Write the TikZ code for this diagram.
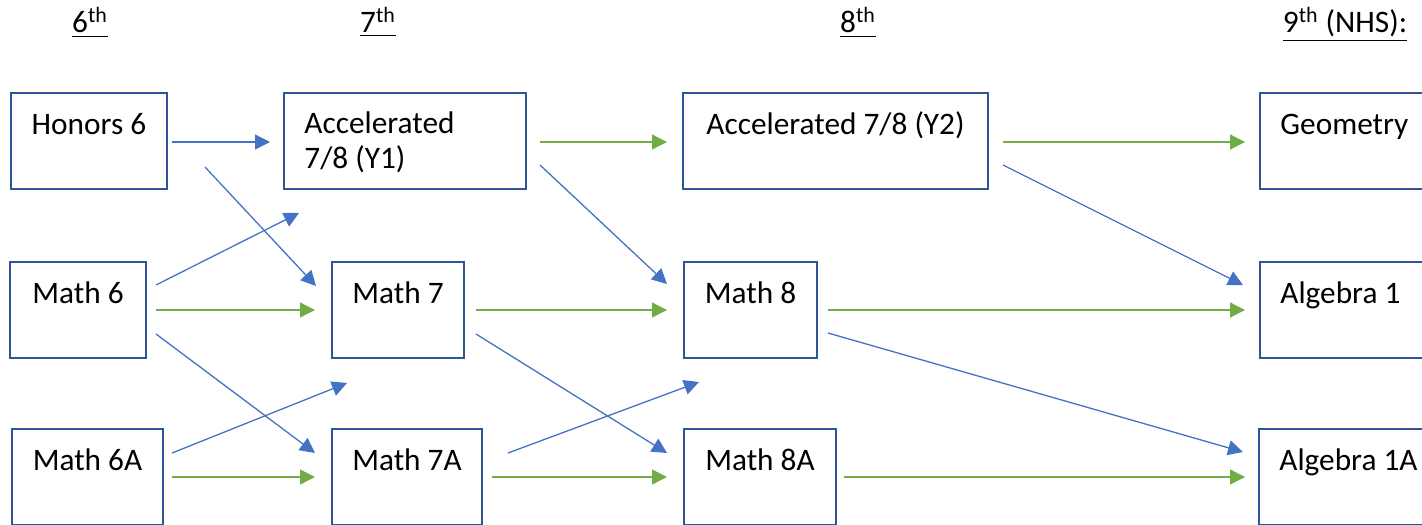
\documentclass[tikz,border=0pt]{standalone}
\usepackage{fontspec}
\setmainfont{Carlito}
\usetikzlibrary{arrows.meta,positioning,calc}
\definecolor{boxblue}{HTML}{2F5597}
\definecolor{arrblue}{HTML}{4472C4}
\definecolor{arrgreen}{HTML}{70AD47}
\newcommand\fsz{\fontsize{15.65pt}{17.5pt}\selectfont}
\tikzset{
  course/.style={draw=boxblue,line width=1pt,minimum height=48pt,inner sep=0pt,outer sep=0pt,anchor=north west},
  ctext/.style={inner sep=0pt,text height=11.7pt,text depth=3.9pt,font=\fsz},
  head/.style={anchor=base,inner sep=0pt,font=\fsz},
  blu/.style={draw=arrblue,line width=0.65pt,-{Triangle[length=7.5pt,width=7.5pt]}},
  grn/.style={blu,draw=arrgreen}
}
\begin{document}
\begin{tikzpicture}[x=0.5pt,y=-0.5pt]
\useasboundingbox (0,0) rectangle (1422,524);

% grade headings
\node[head] (g6) at (90,33) {\underline{6\textsuperscript{th}}};
\node[head] (g7) at (378,33) {\underline{7\textsuperscript{th}}};
\node[head] (g8) at (858,33) {\underline{8\textsuperscript{th}}};
\node[head] (g9) at (1345,33) {\underline{9\textsuperscript{th} (NHS):}};

% courses
\node[course,minimum width=78pt] (hon6) at (11,93) {};
\node[course,minimum width=121pt] (acc1) at (284,93) {};
\node[course,minimum width=152.5pt] (acc2) at (683,93) {};
\node[course,minimum width=100pt] (geo) at (1260,93) {};
\node[course,minimum width=68pt] (m6) at (10,262) {};
\node[course,minimum width=66pt] (m7) at (332,262) {};
\node[course,minimum width=66.5pt] (m8) at (684,262) {};
\node[course,minimum width=100pt] (alg1) at (1260,262) {};
\node[course,minimum width=75.5pt] (m6a) at (12,429) {};
\node[course,minimum width=75pt] (m7a) at (332,429) {};
\node[course,minimum width=76pt] (m8a) at (684,429) {};
\node[course,minimum width=100pt] (alg1a) at (1259,429) {};

\node[ctext,below=8.8pt of hon6.north] (hon6t) {Honors 6};
\node[inner sep=0pt,font=\fsz,align=left,below right=9.4pt and 10pt of acc1.north west] (acc1t) {Accelerated\\7/8 (Y1)};
\node[ctext,below=8.8pt of acc2.north] (acc2t) {Accelerated 7/8 (Y2)};
\node[ctext,below right=8.8pt and 10pt of geo.north west] (geot) {Geometry};
\node[ctext,below=8.8pt of m6.north] (m6t) {Math 6};
\node[ctext,below=8.8pt of m7.north] (m7t) {Math 7};
\node[ctext,below=8.8pt of m8.north] (m8t) {Math 8};
\node[ctext,below right=8.8pt and 10pt of alg1.north west] (alg1t) {Algebra 1};
\node[ctext,below=8.8pt of m6a.north] (m6at) {Math 6A};
\node[ctext,below=8.8pt of m7a.north] (m7at) {Math 7A};
\node[ctext,below=8.8pt of m8a.north] (m8at) {Math 8A};
\node[ctext,below right=8.8pt and 10pt of alg1a.north west] (alg1at) {Algebra 1A};

% 6th -> 7th
\draw[blu] ($(hon6.east)+(5,1)$) -- ($(acc1.west)+(-14,1)$);
\draw[blu] ($(hon6.east)+(38,26)$) -- ($(m7.west)+(-16,-24)$);
\draw[blu] ($(m6.east)+(10,-25)$) -- ($(acc1.south west)+(15,24)$);
\draw[grn] ($(m6.east)+(10,0)$) -- ($(m7.west)+(-17,0)$);
\draw[blu] ($(m6.east)+(10,24)$) -- ($(m7a.west)+(-17,-24)$);
\draw[blu] ($(m6a.east)+(9,-24)$) -- ($(m7.south west)+(15,25)$);
\draw[grn] ($(m6a.east)+(9,0)$) -- ($(m7a.west)+(-17,0)$);

% 7th -> 8th
\draw[grn] ($(acc1.east)+(14,1)$) -- ($(acc2.west)+(-16,1)$);
\draw[blu] ($(acc1.east)+(14,24)$) -- ($(m8.west)+(-17,-26)$);
\draw[grn] ($(m7.east)+(12,0)$) -- ($(m8.west)+(-17,0)$);
\draw[blu] ($(m7.east)+(12,24)$) -- ($(m8a.west)+(-17,-24)$);
\draw[blu] ($(m7a.east)+(26,-24)$) -- ($(m8.south west)+(15,24)$);
\draw[grn] ($(m7a.east)+(10,0)$) -- ($(m8a.west)+(-17,0)$);

% 8th -> 9th
\draw[grn] ($(acc2.east)+(15,1)$) -- ($(geo.west)+(-15,1)$);
\draw[blu] ($(acc2.east)+(15,24)$) -- ($(alg1.west)+(-17,-25)$);
\draw[grn] ($(m8.east)+(11,0)$) -- ($(alg1.west)+(-15,0)$);
\draw[blu] ($(m8.east)+(11,23)$) -- ($(alg1a.west)+(-16,-25)$);
\draw[grn] ($(m8a.east)+(8,0)$) -- ($(alg1a.west)+(-14,0)$);

\end{tikzpicture}
\end{document}
